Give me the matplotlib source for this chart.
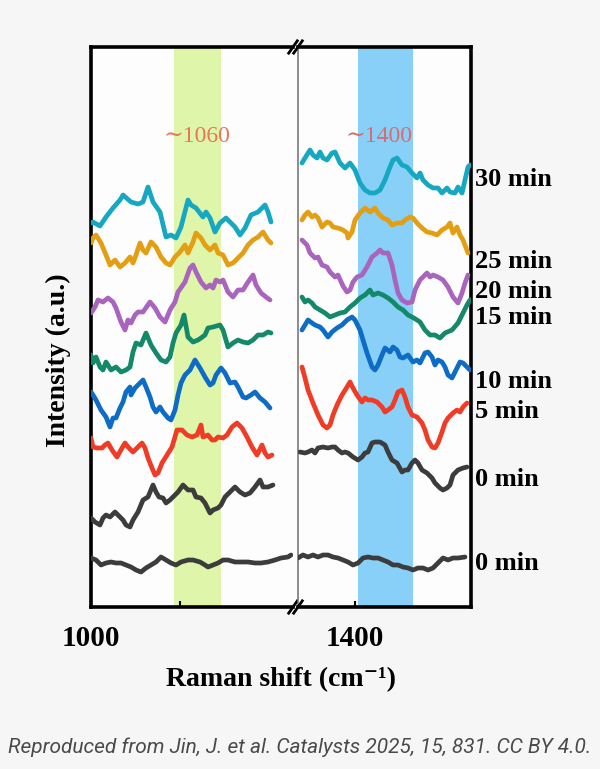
import matplotlib
matplotlib.use("Agg")
import matplotlib.pyplot as plt
from matplotlib.patches import Rectangle

# ---- data (Raman shift in cm-1, intensity in a.u., spectra already offset) ----
# left window
cyan_l_x = [1000, 1002, 1009, 1015, 1022, 1029, 1032, 1040, 1047, 1052, 1057, 1062, 1069, 1075, 1080, 1085, 1090,
            1097, 1100, 1105, 1112, 1115, 1119, 1124, 1129, 1135, 1144, 1149, 1154, 1160, 1167, 1174, 1177, 1180]
cyan_l_y = [384, 385, 381, 390, 399, 407, 412, 405, 403, 405, 420, 405, 395, 370, 372, 369, 380,
            407, 402, 399, 390, 395, 389, 375, 384, 389, 380, 372, 379, 392, 395, 402, 395, 385]

orange_l_x = [1000, 1002, 1005, 1010, 1015, 1019, 1024, 1029, 1034, 1039, 1042, 1045, 1049, 1052, 1055, 1060, 1065,
              1070, 1075, 1079, 1084, 1089, 1094, 1097, 1102, 1105, 1110, 1114, 1119, 1124, 1127, 1132, 1137, 1142,
              1147, 1152, 1157, 1162, 1167, 1172, 1177, 1180]
orange_l_y = [364, 369, 372, 364, 352, 342, 347, 340, 344, 350, 344, 352, 364, 357, 354, 365, 360,
              350, 344, 342, 350, 355, 362, 354, 365, 374, 369, 362, 357, 362, 354, 352, 342, 344,
              349, 354, 362, 367, 370, 375, 367, 364]

purple_l_x = [1000, 1004, 1007, 1012, 1017, 1022, 1025, 1030, 1034, 1037, 1040, 1044, 1047, 1052, 1059, 1064, 1069,
              1074, 1079, 1084, 1087, 1094, 1099, 1102, 1105, 1110, 1115, 1119, 1122, 1125, 1129, 1132, 1137, 1142,
              1147, 1152, 1157, 1162, 1165, 1170, 1175, 1179]
purple_l_y = [294, 300, 307, 305, 309, 305, 299, 285, 277, 287, 284, 292, 295, 295, 305, 299, 290,
              285, 297, 305, 315, 325, 339, 342, 335, 325, 319, 322, 319, 327, 325, 327, 315, 310,
              317, 317, 325, 332, 322, 314, 310, 307]

green_l_x = [1000, 1002, 1005, 1009, 1012, 1015, 1020, 1025, 1030, 1035, 1039, 1042, 1045, 1050, 1055, 1060, 1065,
             1070, 1075, 1079, 1082, 1085, 1090, 1093, 1097, 1102, 1107, 1110, 1114, 1117, 1122, 1129, 1132, 1137,
             1142, 1147, 1152, 1157, 1162, 1167, 1172, 1177, 1180]
green_l_y = [252, 244, 250, 240, 237, 245, 237, 240, 235, 237, 240, 255, 264, 262, 274, 262, 254,
             247, 245, 250, 264, 274, 282, 292, 270, 265, 267, 269, 272, 279, 280, 282, 277, 260,
             264, 267, 265, 264, 267, 272, 272, 275, 274]

blue_l_x = [1000, 1002, 1005, 1010, 1015, 1019, 1022, 1025, 1029, 1032, 1035, 1039, 1040, 1044, 1049, 1052, 1055,
            1059, 1062, 1065, 1069, 1072, 1077, 1080, 1084, 1087, 1090, 1094, 1099, 1104, 1109, 1114, 1119, 1122,
            1125, 1130, 1134, 1139, 1144, 1147, 1152, 1155, 1160, 1164, 1169, 1174, 1179]
blue_l_y = [215, 212, 207, 197, 190, 180, 189, 189, 199, 205, 215, 220, 212, 219, 224, 227, 220,
            210, 200, 195, 200, 195, 189, 187, 197, 212, 224, 232, 237, 247, 239, 230, 222, 224,
            232, 239, 234, 224, 225, 220, 210, 209, 212, 215, 209, 205, 199]

red_l_x = [1000, 1002, 1006, 1011, 1014, 1017, 1021, 1026, 1031, 1034, 1037, 1042, 1046, 1051, 1054, 1057, 1061,
           1064, 1067, 1071, 1076, 1081, 1086, 1091, 1096, 1101, 1106, 1110, 1112, 1117, 1121, 1124, 1127, 1132,
           1136, 1141, 1146, 1151, 1156, 1161, 1166, 1171, 1174, 1177, 1181]
red_l_y = [169, 160, 159, 159, 162, 164, 157, 150, 159, 164, 160, 155, 159, 164, 159, 149, 139,
           132, 134, 144, 152, 160, 177, 177, 172, 170, 172, 182, 170, 172, 167, 167, 170, 169,
           172, 180, 184, 179, 170, 160, 152, 162, 154, 150, 152]

dark_l_x = [1000, 1004, 1009, 1012, 1015, 1019, 1024, 1029, 1032, 1035, 1039, 1042, 1047, 1052, 1057, 1062, 1065,
            1068, 1072, 1075, 1079, 1084, 1087, 1092, 1097, 1102, 1105, 1110, 1114, 1119, 1122, 1127, 1130, 1134,
            1139, 1144, 1149, 1154, 1159, 1164, 1169, 1172, 1177, 1182]
dark_l_y = [89, 85, 82, 89, 92, 90, 95, 90, 87, 82, 80, 87, 95, 107, 110, 122, 115,
            110, 109, 104, 107, 112, 115, 122, 117, 117, 110, 109, 104, 94, 97, 99, 102, 110,
            115, 120, 115, 112, 114, 120, 127, 120, 120, 122]

base_l_x = [1000, 1005, 1010, 1015, 1020, 1025, 1030, 1035, 1040, 1045, 1050, 1055, 1060, 1065, 1070, 1075, 1080,
            1085, 1090, 1097, 1102, 1109, 1114, 1117, 1122, 1127, 1132, 1137, 1144, 1150, 1157, 1164, 1170, 1177,
            1184, 1190, 1197, 1200]
base_l_y = [49, 47, 42, 44, 45, 44, 44, 42, 40, 37, 35, 39, 42, 45, 50, 47, 44,
            42, 45, 47, 47, 45, 42, 40, 42, 44, 47, 47, 45, 45, 45, 44, 44, 45,
            47, 49, 50, 52]

# right window
cyan_r_x = [1347, 1350, 1355, 1358, 1362, 1365, 1368, 1372, 1377, 1380, 1385, 1390, 1395, 1400, 1405, 1410, 1415,
            1420, 1425, 1430, 1435, 1438, 1442, 1447, 1452, 1457, 1462, 1465, 1468, 1473, 1478, 1483, 1487, 1492,
            1495, 1500, 1503, 1507, 1510, 1513, 1515]
cyan_r_y = [444, 449, 457, 452, 449, 455, 449, 447, 454, 455, 444, 439, 444, 437, 424, 417, 414,
            414, 417, 427, 440, 447, 449, 442, 440, 434, 429, 434, 427, 422, 419, 419, 414, 419,
            415, 414, 420, 414, 427, 440, 442]

orange_r_x = [1347, 1350, 1353, 1357, 1360, 1363, 1367, 1372, 1375, 1378, 1383, 1388, 1392, 1393, 1397, 1400, 1405,
              1410, 1415, 1420, 1423, 1428, 1433, 1437, 1442, 1447, 1450, 1455, 1458, 1462, 1467, 1472, 1477, 1482,
              1487, 1492, 1495, 1498, 1502, 1505, 1508, 1513]
orange_r_y = [387, 392, 395, 390, 392, 389, 380, 385, 384, 380, 379, 377, 374, 369, 375, 387, 394,
              399, 395, 399, 394, 389, 387, 382, 384, 384, 387, 390, 389, 384, 379, 375, 374, 372,
              377, 380, 384, 374, 380, 372, 367, 354]

purple_r_x = [1347, 1352, 1355, 1360, 1363, 1367, 1372, 1375, 1380, 1383, 1388, 1392, 1395, 1398, 1402, 1407, 1412,
              1417, 1422, 1425, 1428, 1433, 1437, 1440, 1443, 1447, 1452, 1457, 1460, 1465, 1468, 1472, 1475, 1478,
              1483, 1488, 1493, 1498, 1503, 1507, 1510, 1513]
purple_r_y = [367, 362, 354, 349, 350, 342, 340, 335, 330, 332, 321, 315, 317, 325, 330, 332, 340,
              350, 354, 357, 354, 354, 342, 327, 314, 307, 304, 305, 317, 327, 330, 334, 330, 332,
              330, 327, 320, 310, 304, 314, 324, 332]

green_r_x = [1347, 1350, 1353, 1357, 1360, 1365, 1370, 1375, 1380, 1385, 1390, 1395, 1400, 1405, 1410, 1415, 1418,
             1423, 1428, 1433, 1438, 1443, 1448, 1453, 1457, 1462, 1465, 1470, 1475, 1480, 1485, 1490, 1497, 1503,
             1508, 1512, 1515]
green_r_y = [310, 305, 307, 304, 300, 297, 294, 290, 292, 294, 295, 300, 304, 309, 312, 317, 312,
             314, 312, 309, 305, 300, 297, 292, 290, 287, 285, 277, 272, 272, 269, 274, 277, 284,
             294, 302, 307]

blue_r_x = [1347, 1350, 1353, 1357, 1360, 1365, 1368, 1373, 1377, 1382, 1387, 1392, 1397, 1400, 1405, 1408, 1412,
            1417, 1420, 1423, 1427, 1430, 1435, 1438, 1442, 1445, 1448, 1453, 1458, 1462, 1465, 1470, 1473, 1477,
            1480, 1483, 1487, 1490, 1493, 1497, 1500, 1505, 1508, 1512, 1515]
blue_r_y = [277, 282, 287, 284, 282, 280, 277, 270, 275, 279, 282, 287, 290, 287, 277, 267, 254,
            240, 237, 242, 252, 259, 255, 260, 257, 250, 249, 252, 245, 247, 244, 254, 255, 250,
            242, 247, 245, 240, 232, 229, 235, 245, 244, 240, 237]

red_r_x = [1347, 1350, 1353, 1358, 1363, 1368, 1372, 1375, 1378, 1382, 1387, 1392, 1395, 1398, 1402, 1407, 1410,
           1413, 1417, 1422, 1427, 1430, 1433, 1437, 1440, 1443, 1447, 1450, 1453, 1457, 1462, 1467, 1470, 1473,
           1477, 1480, 1483, 1487, 1490, 1493, 1498, 1502, 1505, 1508, 1512]
red_r_y = [240, 229, 217, 204, 192, 182, 179, 182, 192, 202, 212, 220, 225, 219, 212, 205, 209,
           207, 207, 205, 200, 195, 197, 200, 207, 215, 217, 210, 200, 192, 190, 184, 177, 167,
           160, 159, 164, 175, 184, 189, 194, 197, 195, 200, 204]

dark_r_x = [1345, 1350, 1353, 1357, 1360, 1363, 1368, 1373, 1377, 1380, 1383, 1387, 1390, 1393, 1398, 1403, 1407,
            1410, 1413, 1417, 1420, 1425, 1430, 1433, 1437, 1442, 1447, 1450, 1453, 1457, 1460, 1463, 1467, 1472,
            1477, 1480, 1485, 1488, 1492, 1495, 1498, 1503, 1508, 1512]
dark_r_y = [155, 154, 155, 157, 154, 159, 160, 159, 160, 160, 157, 154, 155, 154, 150, 147, 150,
            154, 155, 164, 165, 165, 162, 155, 147, 144, 135, 137, 137, 144, 147, 144, 137, 134,
            129, 124, 119, 117, 119, 122, 132, 137, 139, 140]

base_r_x = [1343, 1348, 1353, 1358, 1363, 1368, 1373, 1378, 1383, 1388, 1393, 1398, 1403, 1408, 1413, 1418, 1423,
            1428, 1433, 1438, 1443, 1448, 1453, 1458, 1463, 1468, 1473, 1478, 1483, 1488, 1493, 1498, 1503, 1510]
base_r_y = [49, 52, 50, 52, 50, 52, 52, 50, 49, 47, 45, 42, 44, 49, 50, 49, 49,
            47, 45, 42, 42, 40, 39, 37, 39, 39, 37, 39, 44, 49, 47, 49, 49, 50]

time_labels = ["30 min", "25 min", "20 min", "15 min", "10 min", "5 min", "0 min", "0 min"]
label_y = [427, 345, 315, 289, 225, 195, 127, 44]

band_left = (1083, 1130)
band_right = (1403, 1458)
band_text = ["\u223c1060", "\u223c1400"]

# ---- style ----
COLORS = ["#16A8C2", "#E49E12", "#A964BE", "#14896A", "#0D6CC6", "#F03B26", "#3C3C3C", "#3C3C3C"]
SERIF = ["Liberation Serif", "DejaVu Serif"]
LW = 3.4

fig = plt.figure(figsize=(6, 7.69), dpi=100, facecolor="#F6F6F6")
W, H = 600, 769
# white strip behind the axis break (drawn before the axes)
fig.patches.append(Rectangle((292 / W, 1 - 607 / H), 7 / W, 560 / H, transform=fig.transFigure,
                             facecolor="#FDFDFD", edgecolor="none", zorder=-1))
ax_l = fig.add_axes([91 / W, 1 - 607 / H, 202 / W, 560 / H])
ax_r = fig.add_axes([298 / W, 1 - 607 / H, 173 / W, 560 / H], sharey=ax_l)

left_sets = [(cyan_l_x, cyan_l_y), (orange_l_x, orange_l_y), (purple_l_x, purple_l_y), (green_l_x, green_l_y),
             (blue_l_x, blue_l_y), (red_l_x, red_l_y), (dark_l_x, dark_l_y), (base_l_x, base_l_y)]
right_sets = [(cyan_r_x, cyan_r_y), (orange_r_x, orange_r_y), (purple_r_x, purple_r_y), (green_r_x, green_r_y),
              (blue_r_x, blue_r_y), (red_r_x, red_r_y), (dark_r_x, dark_r_y), (base_r_x, base_r_y)]

for ax, sets, band, txt, tx, tcol, bcol in [
        (ax_l, left_sets, band_left, band_text[0], 1106, "#E8765A", "#DFF5AA"),
        (ax_r, right_sets, band_right, band_text[1], 1424, "#DA6B6E", "#88D0F8")]:
    ax.set_facecolor("#FDFDFD")
    ax.axvspan(*band, color=bcol, lw=0, zorder=1)
    for (x, y), c in zip(sets, COLORS):
        ax.plot(x, y, color=c, lw=LW, solid_joinstyle="round", solid_capstyle="round", zorder=3)
    ax.text(tx, 471, txt, color=tcol, fontsize=17, family=SERIF, ha="center", va="center", zorder=4)
    ax.set_ylim(0, 560)
    ax.set_yticks([])
    ax.tick_params(axis="x", direction="in", length=4, width=1.5, pad=13, labelsize=21)
    for s in ax.spines.values():
        s.set_linewidth(2.6)
        s.set_color("black")

ax_l.set_xlim(1000, 1202)
ax_r.set_xlim(1343, 1516)
ax_l.set_xticks([1000, 1089], ["1000", ""], fontweight="bold", family=SERIF)
ax_r.set_xticks([1400], ["1400"], fontweight="bold", family=SERIF)
ax_l.spines["right"].set_visible(False)
ax_r.spines["left"].set_linewidth(1.1)
ax_r.spines["left"].set_color("#6E6E6E")

# break marks
d = 0.011
for ax, x0, wpx in [(ax_l, 1.0, 202), (ax_r, 0.0, 173)]:
    kw = dict(transform=ax.transAxes, color="black", lw=2.0, clip_on=False, zorder=5)
    sx = d * 560 / wpx * 0.7
    for y0 in (0.0, 1.0):
        ax.plot([x0 - sx, x0 + sx], [y0 - d, y0 + d], **kw)

# time labels on the right
for t, y in zip(time_labels, label_y):
    ax_r.text(1.025, y, t, transform=ax_r.get_yaxis_transform(), ha="left", va="center",
              fontsize=19, fontweight="bold", family=SERIF)

fig.text(281 / W, 1 - 680 / H, "Raman shift (cm\u207b\u00b9)", ha="center", va="center",
         fontsize=20, fontweight="bold", family=SERIF)
fig.text(58 / W, 1 - 360 / H, "Intensity (a.u.)", ha="center", va="center", rotation=90,
         fontsize=20, fontweight="bold", family=SERIF)
fig.text(0.5, 1 - 747 / H, "Reproduced from Jin, J. et al. Catalysts 2025, 15, 831. CC BY 4.0.",
         ha="center", va="center", fontsize=15, style="italic", color="#4A4A4A",
         family=["Roboto", "DejaVu Sans"])

fig.savefig("out.png", dpi=100, facecolor=fig.get_facecolor())
